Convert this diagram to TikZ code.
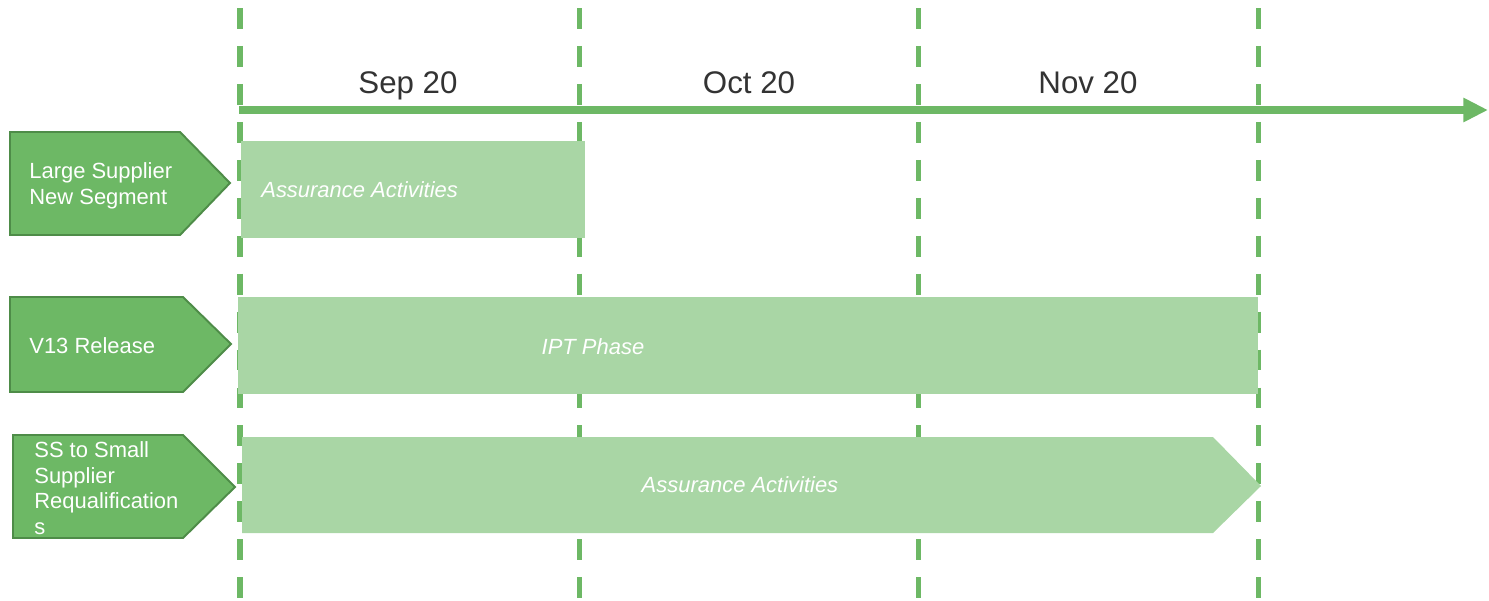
\documentclass[tikz,border=0pt]{standalone}
\usepackage{fontspec}
\setmainfont{Liberation Sans}
\usetikzlibrary{arrows.meta}
\definecolor{darkgreen}{HTML}{6DB865}
\definecolor{edgegreen}{HTML}{4E8C48}
\definecolor{lightgreen}{HTML}{A9D6A5}
\definecolor{monthgray}{HTML}{333333}

\begin{document}
\begin{tikzpicture}[
    x = 0.02cm,
    y = -0.02cm,
    gridline/.style = {
      draw = darkgreen,
      line width = 2.85pt,
      dash pattern = on 11.9pt off 9.7pt
    },
    timeline/.style = {
      draw = darkgreen,
      line width = 4pt,
      -{Triangle[length = 14pt, width = 13pt]}
    },
    tag/.style = {
      draw = edgegreen,
      fill = darkgreen,
      line width = 1.1pt
    },
    bar/.style = {
      fill = lightgreen
    },
    month/.style = {
      anchor = base,
      text = monthgray,
      font = \fontsize{17.8}{21}\selectfont
    },
    tagtext/.style = {
      anchor = west,
      align = left,
      inner sep = 0pt,
      text = white,
      font = \fontsize{12.5}{14.6}\selectfont
    },
    bartext/.style = {
      inner sep = 0pt,
      text = white,
      font = \fontsize{12.5}{14.6}\selectfont\itshape
    }
  ]
    \useasboundingbox (0, 0) rectangle (1489, 600);

    % month borders
    \foreach \xpos in {240, 579, 918, 1258} {
      \draw[gridline] (\xpos, 8) -- (\xpos, 600);
    }

    % bars
    \fill[bar] (241, 141) rectangle (585, 238);
    \fill[bar] (238, 297) rectangle (1258, 394);
    \fill[bar] (242, 437) -- (1213, 437) -- (1261, 486) -- (1213, 533) -- (242, 533) -- cycle;

    \node[bartext, anchor = west] (assure1) at (261, 190) {Assurance Activities};
    \node[bartext] (ipt) at (593, 347) {IPT Phase};
    \node[bartext] (assure2) at (740, 485) {Assurance Activities};

    % time axis
    \coordinate (axisstart) at (239, 110);
    \coordinate (axisend) at (1488, 110);
    \draw[timeline] (axisstart) -- (axisend);

    \node[month] (sep) at (408, 93) {Sep 20};
    \node[month] (oct) at (749, 93) {Oct 20};
    \node[month] (nov) at (1088, 93) {Nov 20};

    % row tags
    \draw[tag] (10, 132) -- (180, 132) -- (230, 183) -- (180, 235) -- (10, 235) -- cycle;
    \draw[tag] (10, 297) -- (183, 297) -- (231, 344) -- (183, 392) -- (10, 392) -- cycle;
    \draw[tag] (13, 435) -- (183, 435) -- (235, 487) -- (183, 538) -- (13, 538) -- cycle;

    \node[tagtext] (large) at (29, 186) {Large Supplier\\New Segment};
    \node[tagtext] (release) at (29, 346) {V13 Release};
    \node[tagtext] (requal) at (34, 488) {SS to Small\\Supplier\\Requalification\\s};
  \end{tikzpicture}
\end{document}
